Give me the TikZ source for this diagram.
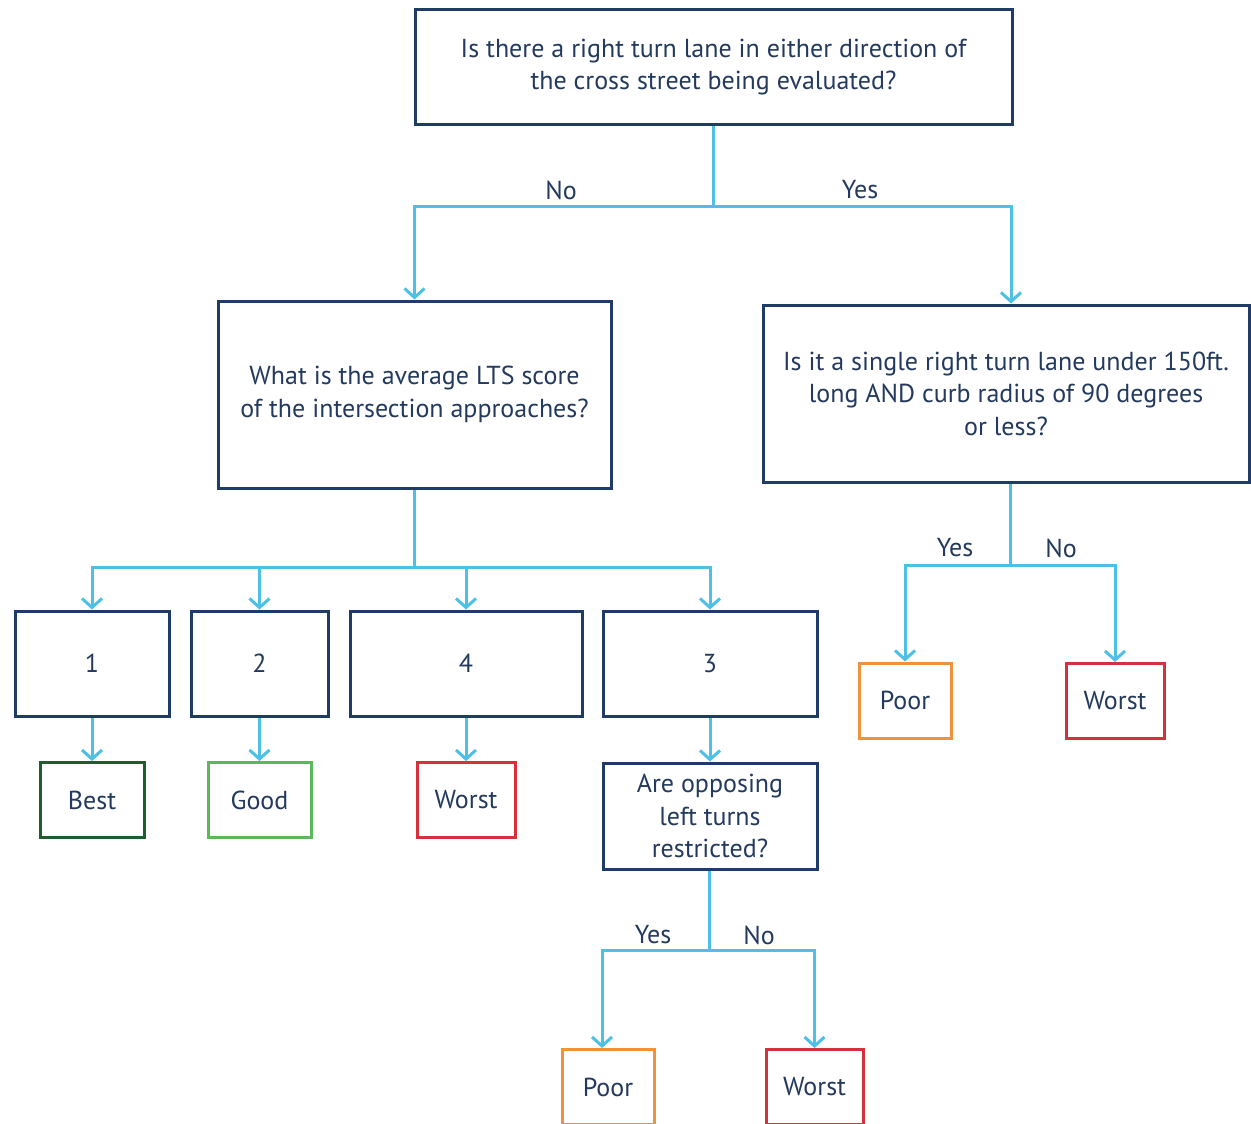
\documentclass[tikz,border=0pt]{standalone}
\usepackage{fontspec}
\setmainfont{PT Sans}
\usetikzlibrary{arrows.meta}
\definecolor{navy}{HTML}{1F3C68}
\definecolor{ink}{HTML}{233A5E}
\definecolor{link}{HTML}{4DC0E6}
\definecolor{bestc}{HTML}{1E5E2E}
\definecolor{goodc}{HTML}{5DB85C}
\definecolor{poorc}{HTML}{F0913C}
\definecolor{worstc}{HTML}{D6303C}
\tikzset{
  qbox/.style={draw=navy, line width=3pt, inner sep=0pt, align=center, text=ink,
    font=\fontsize{26}{32.5}\selectfont},
  obox/.style={draw=#1, line width=3pt, inner sep=0pt, text=ink,
    font=\fontsize{26}{32.5}\selectfont, minimum height=75pt},
  conn/.style={draw=link, line width=3pt},
  arr/.style={conn, -{Straight Barb[length=9pt,width=20pt,line width=3pt]}},
  lbl/.style={text=ink, font=\fontsize{26}{30}\selectfont, inner sep=0pt}
}
\begin{document}
\begin{tikzpicture}[x=1pt,y=-1pt]
\useasboundingbox (0,0) rectangle (1251,1124);

% question boxes
\node[qbox, minimum width=597pt, minimum height=114pt] (top) at (713.5,67)
  {Is there a right turn lane in either direction of\\the cross street being evaluated?};
\node[qbox, minimum width=393pt, minimum height=187pt] (avg) at (414.5,394.5)
  {What is the average LTS score\\of the intersection approaches?};
\node[qbox, minimum width=486pt, minimum height=177pt] (single) at (1006,393.5)
  {Is it a single right turn lane under 150ft.\\long AND curb radius of 90 degrees\\or less?};

% LTS score boxes
\node[qbox, minimum width=154pt, minimum height=105pt] (s1) at (92,663.5) {1};
\node[qbox, minimum width=137pt, minimum height=105pt] (s2) at (259.5,663.5) {2};
\node[qbox, minimum width=232pt, minimum height=105pt] (s4) at (466,663.5) {4};
\node[qbox, minimum width=214pt, minimum height=105pt] (s3) at (710,663.5) {3};
\node[qbox, minimum width=214pt, minimum height=106pt] (opp) at (710,816)
  {Are opposing\\left turns\\restricted?};

% outcome boxes
\node[obox=bestc, minimum width=104pt] (best) at (92,800) {Best};
\node[obox=goodc, minimum width=103pt] (good) at (259.5,800) {Good};
\node[obox=worstc, minimum width=98pt] (worst4) at (466,800) {Worst};
\node[obox=poorc, minimum width=92pt] (poorR) at (905,700.5) {Poor};
\node[obox=worstc, minimum width=98pt] (worstR) at (1115,701) {Worst};
\node[obox=poorc, minimum width=92pt] (poorB) at (608,1087) {Poor};
\node[obox=worstc, minimum width=97pt] (worstB) at (814.5,1087) {Worst};

% branch points
\coordinate (j1) at (713.5,206);
\coordinate (j2) at (414.5,567);
\coordinate (j3) at (1010,565);
\coordinate (j4) at (709,950);

% connectors
\draw[conn] (top.south) -- (j1);
\draw[arr] (j1) -| (avg.north);
\draw[arr] (j1) -| (single.north -| 1011,0);
\node[lbl] (lno) at (561,190) {No};
\node[lbl] (lyes) at (860,190) {Yes};

\draw[conn] (avg.south) -- (j2);
\draw[arr] (j2) -| (s1.north);
\draw[arr] (j2) -| (s2.north);
\draw[arr] (j2) -| (s4.north);
\draw[arr] (j2) -| (s3.north);

\draw[arr] (s1.south) -- (best.north);
\draw[arr] (s2.south) -- (good.north);
\draw[arr] (s4.south) -- (worst4.north);
\draw[arr] (s3.south) -- (opp.north);

\draw[conn] (single.south -| j3) -- (j3);
\draw[arr] (j3) -| (poorR.north);
\draw[arr] (j3) -| (worstR.north);
\node[lbl] (ryes) at (955,548) {Yes};
\node[lbl] (rno) at (1061,548) {No};

\draw[conn] (opp.south -| j4) -- (j4);
\draw[arr] (j4) -| (poorB.north -| 602,0);
\draw[arr] (j4) -| (worstB.north);
\node[lbl] (byes) at (653,935) {Yes};
\node[lbl] (bno) at (759,935) {No};
\end{tikzpicture}
\end{document}
